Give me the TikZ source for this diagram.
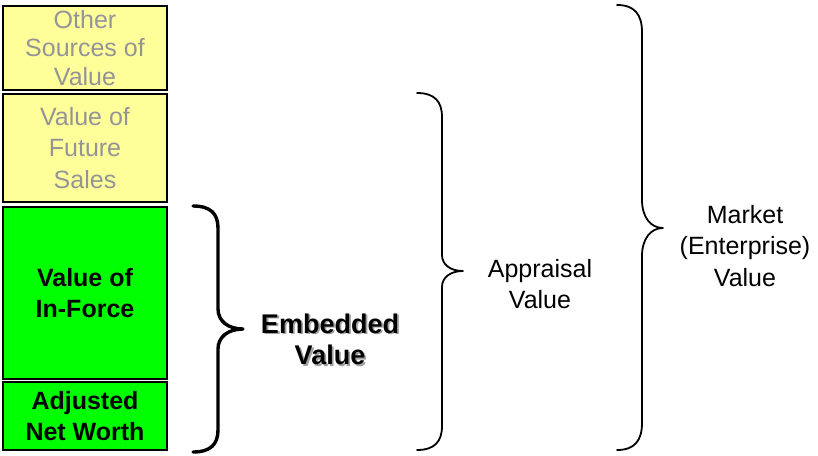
\documentclass[tikz,border=0pt]{standalone}
\usepackage{fontspec}
\setmainfont{Liberation Sans}
\definecolor{boxyellow}{RGB}{255,255,153}
\definecolor{boxgreen}{RGB}{0,255,0}
\definecolor{softgray}{RGB}{148,148,152}
\definecolor{shadowgray}{RGB}{160,160,160}
% word with a soft drop shadow set behind it
\newcommand\shadowedword[1]{\makebox[0pt][l]{\hspace{1.8pt}\raisebox{-1.8pt}{\textcolor{shadowgray}{#1}}}#1}
\begin{document}
\begin{tikzpicture}[x=1pt,y=-1pt,
  layer/.style={draw=black, line width=2.5pt, inner sep=0pt, align=center,
                minimum width=164pt},
  futurelayer/.style={layer, fill=boxyellow, text=softgray,
                font=\fontsize{25}{31.5}\selectfont},
  corelayer/.style={layer, fill=boxgreen, text=black,
                font=\bfseries\fontsize{25}{31.5}\selectfont},
  plainlabel/.style={align=center, inner sep=0pt, font=\fontsize{25}{31.5}\selectfont},
  boldlabel/.style={align=center, inner sep=0pt, font=\bfseries\fontsize{27}{31.5}\selectfont},
  thinbrace/.style={draw=black, line width=1.8pt, line join=round, line cap=round},
  thickbrace/.style={draw=black, line width=3.4pt, line join=round, line cap=round}]
\useasboundingbox (0,0) rectangle (818,455);

% stacked value layers
\node[futurelayer, minimum height=84pt, font=\fontsize{25}{28.5}\selectfont]
  (other) at (85,48) {Other\\Sources of\\Value};
\node[futurelayer, minimum height=108pt] (future) at (85,148) {Value of\\Future\\Sales};
\node[corelayer, minimum height=172pt] (inforce) at (85,293) {Value of\\In-Force};
\node[corelayer, minimum height=68pt] (anw) at (85,416) {Adjusted\\Net Worth};

% brace grouping the two green layers
\draw[thickbrace] (193,206) .. controls (210.5,206) and (218,213.7) .. (218,228)
  -- (218,309) .. controls (218,321) and (228,329) .. (243,329)
  .. controls (228,329) and (218,337) .. (218,349)
  -- (218,430) .. controls (218,444.3) and (210.5,452) .. (193,452);

% brace for appraisal value
\draw[thinbrace] (417,93) .. controls (434.5,93) and (442,101.4) .. (442,117)
  -- (442,255) .. controls (442,264.6) and (450.4,271) .. (463,271)
  .. controls (450.4,271) and (442,277.4) .. (442,287)
  -- (442,426) .. controls (442,441.6) and (434.5,450) .. (417,450);

% brace for market value
\draw[thinbrace] (617,5) .. controls (634.5,5) and (642,14.5) .. (642,32)
  -- (642,200) .. controls (642,216.8) and (650.4,228) .. (663,228)
  .. controls (650.4,228) and (642,239.2) .. (642,256)
  -- (642,423) .. controls (642,440.6) and (634.5,450) .. (617,450);

% labels
\node[boldlabel] (embedded) at (330,340) {\shadowedword{Embedded}\\\shadowedword{Value}};
\node[plainlabel] (appraisal) at (540,284) {Appraisal\\Value};
\node[plainlabel] (market) at (745,246) {Market\\(Enterprise)\\Value};
\end{tikzpicture}
\end{document}
